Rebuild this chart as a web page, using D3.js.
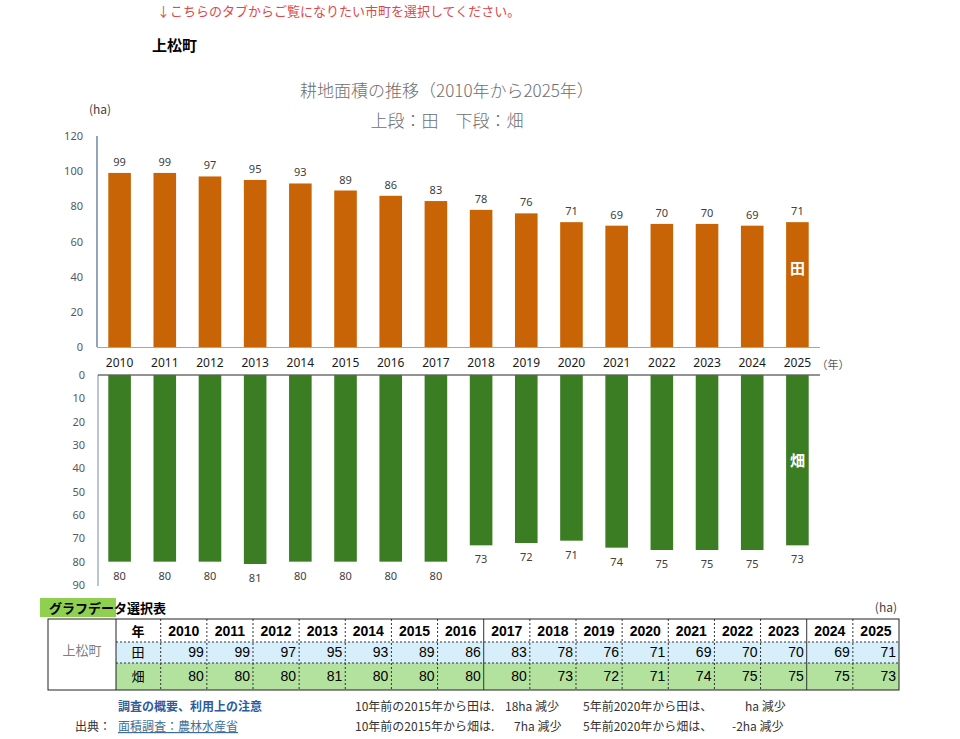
<!DOCTYPE html>
<html>
<head>
<meta charset="utf-8">
<script src="https://cdn.jsdelivr.net/npm/d3@7"></script>
<style>
  body { margin: 0; background: #fff; }
  svg { display: block; font-family: "Noto Sans CJK JP", "Noto Sans", sans-serif; }
</style>
</head>
<body>
<svg id="chart" width="960" height="739"></svg>
<script>
// Data
var years = ['2010', '2011', '2012', '2013', '2014', '2015', '2016', '2017',
             '2018', '2019', '2020', '2021', '2022', '2023', '2024', '2025'];
var ta = [99, 99, 97, 95, 93, 89, 86, 83, 78, 76, 71, 69, 70, 70, 69, 71];
var hata = [80, 80, 80, 81, 80, 80, 80, 80, 73, 72, 71, 74, 75, 75, 75, 73];
var topTicks = [0, 20, 40, 60, 80, 100, 120];
var bottomTicks = [0, 10, 20, 30, 40, 50, 60, 70, 80, 90];

var svg = d3.select('#chart');

// Header texts
svg.append('text').attr('x', 157).attr('y', 16)
  .attr('font-size', 13).attr('fill', '#e04848')
  .text('↓こちらのタブからご覧になりたい市町を選択してください。');
svg.append('text').attr('x', 152).attr('y', 51)
  .attr('font-size', 15).attr('font-weight', 'bold').attr('fill', '#000')
  .text('上松町');

// Title
svg.append('text').attr('x', 447).attr('y', 97).attr('text-anchor', 'middle')
  .attr('font-size', 17).attr('font-weight', 300).attr('fill', '#6e6e6e')
  .text('耕地面積の推移（2010年から2025年）');
svg.append('text').attr('x', 447).attr('y', 127).attr('text-anchor', 'middle')
  .attr('font-size', 17).attr('font-weight', 300).attr('fill', '#6e6e6e')
  .text('上段：田　下段：畑');

// Scales
var x = d3.scaleBand().domain(years).range([97, 820])
  .paddingInner(0.5).paddingOuter(0.25);
var yTop = d3.scaleLinear().domain([0, 120]).range([347, 136]);
var yBot = d3.scaleLinear().domain([0, 90]).range([375, 585]);

// Upper chart (田)
var gTop = svg.append('g');
gTop.append('g').attr('transform', 'translate(97,0)')
  .call(d3.axisLeft(yTop).tickValues(topTicks).tickSize(0).tickPadding(14))
  .call(function(g) {
    g.select('.domain').remove();
    g.selectAll('text').attr('fill', '#595959').attr('font-size', 11)
      .attr('font-family', '"Noto Sans", sans-serif');
  });
gTop.append('line').attr('x1', 97).attr('x2', 97)
  .attr('y1', yTop(120)).attr('y2', yTop(0))
  .attr('stroke', '#4a6a85').attr('stroke-width', 1.2);

gTop.selectAll('.bar-ta').data(ta).enter().append('rect')
  .attr('class', 'bar-ta')
  .attr('x', function(d, i) { return x(years[i]); })
  .attr('width', x.bandwidth())
  .attr('y', function(d) { return yTop(d); })
  .attr('height', function(d) { return yTop(0) - yTop(d); })
  .attr('fill', '#c86405');

gTop.append('line').attr('x1', 97).attr('x2', 820)
  .attr('y1', yTop(0) + 0.5).attr('y2', yTop(0) + 0.5)
  .attr('stroke', '#a6a6a6').attr('stroke-width', 1.2);

gTop.selectAll('.lbl-ta').data(ta).enter().append('text')
  .attr('x', function(d, i) { return x(years[i]) + x.bandwidth() / 2; })
  .attr('y', function(d) { return yTop(d) - 7; })
  .attr('text-anchor', 'middle').attr('font-size', 11).attr('fill', '#404040')
  .attr('font-family', '"Noto Sans", sans-serif')
  .text(function(d) { return d; });

gTop.append('text').attr('x', 100).attr('y', 114).attr('text-anchor', 'middle')
  .attr('font-size', 12).attr('fill', '#404040').text('(ha)');

// Year labels
svg.selectAll('.yr').data(years).enter().append('text')
  .attr('x', function(d) { return x(d) + x.bandwidth() / 2; })
  .attr('y', 367).attr('text-anchor', 'middle')
  .attr('font-size', 12).attr('fill', '#1a1a1a')
  .attr('font-family', '"Noto Sans", sans-serif')
  .text(function(d) { return d; });
svg.append('text').attr('x', 833).attr('y', 369).attr('text-anchor', 'middle')
  .attr('font-size', 11).attr('fill', '#595959').text('（年）');

// Lower chart (畑)
var gBot = svg.append('g');
gBot.append('g').attr('transform', 'translate(98,0)')
  .call(d3.axisLeft(yBot).tickValues(bottomTicks).tickSize(0).tickPadding(13))
  .call(function(g) {
    g.select('.domain').remove();
    g.selectAll('text').attr('fill', '#595959').attr('font-size', 11)
      .attr('font-family', '"Noto Sans", sans-serif');
  });
gBot.append('line').attr('x1', 98).attr('x2', 98)
  .attr('y1', yBot(0)).attr('y2', yBot(90) + 1)
  .attr('stroke', '#8aa2b4').attr('stroke-width', 1.2);

gBot.append('line').attr('x1', 98).attr('x2', 820)
  .attr('y1', yBot(0)).attr('y2', yBot(0))
  .attr('stroke', '#262626').attr('stroke-width', 1);

gBot.selectAll('.bar-hata').data(hata).enter().append('rect')
  .attr('class', 'bar-hata')
  .attr('x', function(d, i) { return x(years[i]); })
  .attr('width', x.bandwidth())
  .attr('y', yBot(0))
  .attr('height', function(d) { return yBot(d) - yBot(0); })
  .attr('fill', '#3b7d23');

gBot.selectAll('.lbl-hata').data(hata).enter().append('text')
  .attr('x', function(d, i) { return x(years[i]) + x.bandwidth() / 2; })
  .attr('y', function(d) { return yBot(d) + 18; })
  .attr('text-anchor', 'middle').attr('font-size', 11).attr('fill', '#404040')
  .attr('font-family', '"Noto Sans", sans-serif')
  .text(function(d) { return d; });

// Series tags inside the last bars
var last = years[years.length - 1];
svg.append('text').attr('x', x(last) + x.bandwidth() / 2).attr('y', 274)
  .attr('text-anchor', 'middle').attr('font-size', 15).attr('font-weight', 'bold')
  .attr('fill', '#fff').text('田');
svg.append('text').attr('x', x(last) + x.bandwidth() / 2).attr('y', 466)
  .attr('text-anchor', 'middle').attr('font-size', 15).attr('font-weight', 'bold')
  .attr('fill', '#fff').text('畑');

// Data table
var tbl = svg.append('g');
var colX0 = 160.7, colW = (899 - 160.7) / years.length;
var rowY = [619, 642, 663, 690];
var rows = [
  { label: '田', values: ta, bg: '#d6effb' },
  { label: '畑', values: hata, bg: '#b3e29f' }
];

tbl.append('rect').attr('x', 40).attr('y', 598).attr('width', 76).attr('height', 19)
  .attr('fill', '#8fd050');
tbl.append('text').attr('x', 49).attr('y', 613)
  .attr('font-size', 13).attr('font-weight', 'bold').attr('fill', '#000')
  .text('グラフデータ選択表');
tbl.append('text').attr('x', 897).attr('y', 612).attr('text-anchor', 'end')
  .attr('font-size', 12).attr('fill', '#404040').text('(ha)');

rows.forEach(function(r, ri) {
  tbl.append('rect').attr('x', 116).attr('y', rowY[ri + 1])
    .attr('width', 899 - 116).attr('height', rowY[ri + 2] - rowY[ri + 1])
    .attr('fill', r.bg);
});

// grid lines
for (var i = 1; i < years.length; i++) {
  var cx = colX0 + colW * i;
  var solid = (years[i] === '2017' || years[i] === '2024');
  tbl.append('line').attr('x1', cx).attr('x2', cx).attr('y1', rowY[0]).attr('y2', rowY[3])
    .attr('stroke', '#333').attr('stroke-width', 1)
    .attr('stroke-dasharray', solid ? null : '2,2');
}
tbl.append('line').attr('x1', colX0).attr('x2', colX0).attr('y1', rowY[0]).attr('y2', rowY[3])
  .attr('stroke', '#333').attr('stroke-dasharray', '2,2');
[rowY[1], rowY[2]].forEach(function(yy) {
  tbl.append('line').attr('x1', 116).attr('x2', 899).attr('y1', yy).attr('y2', yy)
    .attr('stroke', '#333').attr('stroke-dasharray', '2,2');
});
tbl.append('line').attr('x1', 116).attr('x2', 116).attr('y1', rowY[0]).attr('y2', rowY[3])
  .attr('stroke', '#222');
tbl.append('rect').attr('x', 48).attr('y', rowY[0]).attr('width', 899 - 48)
  .attr('height', rowY[3] - rowY[0]).attr('fill', 'none').attr('stroke', '#222');

tbl.append('text').attr('x', 82).attr('y', 655).attr('text-anchor', 'middle')
  .attr('font-size', 13).attr('fill', '#808080').text('上松町');
tbl.append('text').attr('x', 138).attr('y', 636).attr('text-anchor', 'middle')
  .attr('font-size', 13).attr('font-weight', 'bold').attr('fill', '#000').text('年');
rows.forEach(function(r, ri) {
  tbl.append('text').attr('x', 138).attr('y', rowY[ri + 1] + (ri === 0 ? 15 : 18))
    .attr('text-anchor', 'middle').attr('font-size', 13).attr('fill', '#000').text(r.label);
});

tbl.selectAll('.th').data(years).enter().append('text')
  .attr('x', function(d, i) { return colX0 + colW * (i + 0.5); })
  .attr('y', 636).attr('text-anchor', 'middle')
  .attr('font-size', 14).attr('font-weight', 'bold').attr('fill', '#000')
  .attr('font-family', '"Liberation Sans Narrow", "Liberation Sans", sans-serif')
  .text(function(d) { return d; });

rows.forEach(function(r, ri) {
  tbl.selectAll('.td' + ri).data(r.values).enter().append('text')
    .attr('x', function(d, i) { return colX0 + colW * (i + 1) - 3; })
    .attr('y', rowY[ri + 1] + (ri === 0 ? 15 : 18)).attr('text-anchor', 'end')
    .attr('font-size', 14).attr('fill', '#000')
    .attr('font-family', '"Liberation Sans Narrow", "Liberation Sans", sans-serif')
    .text(function(d) { return d; });
});

// Footer
var foot = svg.append('g').attr('font-size', 12).attr('fill', '#333');
foot.append('text').attr('x', 118).attr('y', 711).attr('font-weight', 'bold')
  .attr('fill', '#2e5c9a').text('調査の概要、利用上の注意');
foot.append('text').attr('x', 75).attr('y', 731).attr('fill', '#333').text('出典：');
foot.append('text').attr('x', 118).attr('y', 731).attr('fill', '#3f6f96')
  .attr('text-decoration', 'underline').text('面積調査：農林水産省');
foot.append('text').attr('x', 355).attr('y', 711).text('10年前の2015年から田は.');
foot.append('text').attr('x', 505).attr('y', 711).text('18ha 減少');
foot.append('text').attr('x', 583).attr('y', 711).text('5年前2020年から田は、');
foot.append('text').attr('x', 745).attr('y', 711).text('ha 減少');
foot.append('text').attr('x', 355).attr('y', 731).text('10年前の2015年から畑は.');
foot.append('text').attr('x', 514).attr('y', 731).text('7ha 減少');
foot.append('text').attr('x', 583).attr('y', 731).text('5年前2020年から畑は、');
foot.append('text').attr('x', 732).attr('y', 731).text('-2ha 減少');
</script>
</body>
</html>
